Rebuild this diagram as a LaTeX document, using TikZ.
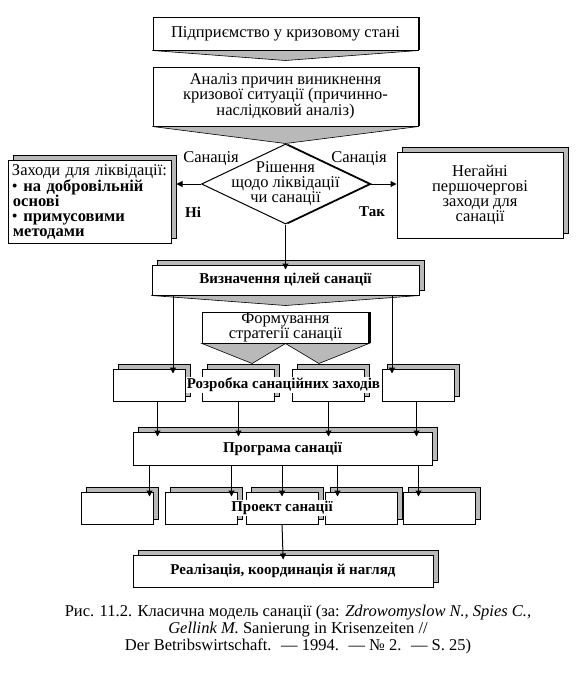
\documentclass[tikz,border=0pt]{standalone}
\usepackage{fontspec}
\setmainfont{Liberation Serif}
\usetikzlibrary{arrows.meta,positioning,shapes.geometric,calc,shadows}

\begin{document}
\begin{tikzpicture}[
  x=1pt, y=-1pt,
  font=\fontsize{16.5}{15}\selectfont,
  box/.style={draw, fill=white, line width=1pt, align=center, inner sep=2pt,
    general shadow={draw, fill=gray!55, line width=0.6pt, shadow xshift=5pt, shadow yshift=5pt}},
  topbox/.style={draw, fill=white, line width=1pt, align=center, inner xsep=2pt, inner ysep=0pt,
    general shadow={fill=black, shadow xshift=2pt}},
  cell/.style={box, minimum width=72pt, minimum height=32pt},
  decision/.style={draw, diamond, fill=white, line width=1pt, inner sep=0pt,
    minimum width=168pt, minimum height=80pt, general shadow={fill=black, shadow xshift=3pt}},
  chevron/.style={draw, fill=gray!55, line width=0.6pt},
  heavy/.style={font=\fontsize{15}{15}\selectfont\bfseries},
  lbl/.style={inner sep=1pt},
  over/.style={heavy, fill=white, inner sep=1pt},
  arrow/.style={-{Triangle[length=6pt, width=6pt]}, line width=1pt},
  into/.style={arrow, shorten >=-5pt}
]
  \useasboundingbox (0,0) rectangle (576,673);

  % Crisis and analysis
  \node[topbox, minimum width=265pt, minimum height=33pt] (start) at (285.5,33.5) {Підприємство у кризовому стані};
  \node[topbox, minimum width=265pt, minimum height=59pt, below=16pt of start] (anal)
    {Аналіз причин виникнення\\кризової ситуації (причинно-\\наслідковий аналіз)};

  % Decision
  \node[decision, below=17pt of anal] (dec) {};
  \node[lbl, align=center] (dectext) at (dec.center) {Рішення\\щодо ліквідації\\чи санації};

  \draw[chevron] (start.south west) -- ([yshift=-10pt]start.south) -- (start.south east) -- cycle;
  \draw[chevron] (anal.south west) -- (dec.north) -- (anal.south east) -- cycle;

  % Side boxes
  \node[box, minimum width=163pt, minimum height=83pt, text width=155pt, align=left] (liq) at (89.5,201.5)
    {Заходи для ліквідації:\\
     \textbullet\ \textbf{на добровільній}\\
     \hspace*{1pt}\textbf{основі}\\
     \textbullet\ \textbf{примусовими}\\
     \hspace*{1pt}\textbf{методами}};
  \node[box, minimum width=166pt, minimum height=86pt] (urg) at (480,195)
    {Негайні\\першочергові\\заходи для\\санації};

  \node[lbl] (sanl) at ([shift={(10pt,25pt)}]dec.west) {Санація};
  \node[lbl] (sanr) at ([shift={(-11pt,25pt)}]dec.east) {Санація};
  \node[lbl, heavy] (no) at ([shift={(-8pt,-28pt)}]dec.west) {Ні};
  \node[lbl, heavy] (yes) at ([shift={(2pt,-28pt)}]dec.east) {Так};

  % Goals and strategy
  \node[box, heavy, minimum width=267pt, minimum height=30pt, below=40pt of dec] (goals) {Визначення цілей санації};
  \draw[chevron] (goals.south west) -- ([yshift=-10pt]goals.south) -- (goals.south east) -- cycle;
  \node[topbox, minimum width=166pt, minimum height=31pt, below=16pt of goals] (strat) {Формування\\стратегії санації};
  \draw[chevron] (strat.south west)
    -- ([yshift=-20pt]$(strat.south west)!0.3!(strat.south east)$)
    -- (strat.south)
    -- ([yshift=-20pt]$(strat.south west)!0.7!(strat.south east)$)
    -- (strat.south east) -- cycle;

  % Measures row
  \node[cell] (d1) at (149.5,385) {};
  \node[cell, right=16pt of d1] (d2) {};
  \node[cell, right=17pt of d2] (d3) {};
  \node[cell, right=17pt of d3] (d4) {};
  \node[over] (devtext) at ($(d2)!0.5!(d3)$) {Розробка санаційних заходів};

  \coordinate (a1) at ([xshift=-13pt]d1.north east);
  \coordinate (a4) at ([xshift=10pt]d4.north west);

  % Programme
  \node[box, heavy, minimum width=299pt, minimum height=33pt] (prog) at (282.5,448.5) {Програма санації};

  % Project row
  \node[cell] (p1) at (117,508) {};
  \node[cell, right=11pt of p1] (p2) {};
  \node[cell, right=8pt of p2] (p3) {};
  \node[cell, right=6pt of p3] (p4) {};
  \node[cell, right=5pt of p4] (p5) {};
  \node[over] (projtext) at (p3) {Проект санації};

  \coordinate (q1) at ([xshift=-4pt]p1.north east);
  \coordinate (q2) at ([xshift=-6pt]p2.north east);
  \coordinate (q4) at ([xshift=13pt]p4.north west);
  \coordinate (q5) at ([xshift=16pt]p5.north west);

  % Realisation
  \node[box, heavy, minimum width=300pt, minimum height=32pt] (real) at (283,571) {Реалізація, координація й нагляд};

  % Caption
  \node[align=center, font=\fontsize{16.5}{17}\selectfont] (caption) at (298,630)
    {Рис. 11.2. Класична модель санації (за: \textit{Zdrowomyslow N., Spies C.,}\\
     \textit{Gellink M.} Sanierung in Krisenzeiten //\\
     Der Betribswirtschaft. \ — 1994. \ — № 2. \ — S. 25)};

  % Arrows
  \draw[arrow, shorten >=5pt] (dec.west) -- (dec.west -| liq.east);
  \draw[arrow] (dec.east) -- (dec.east -| urg.west);
  \draw[into] (dec.south) -- (goals.north);

  \draw[into] (goals.south -| a1) -- (a1);
  \draw[into] (goals.south -| a4) -- (a4);

  \draw[into] ([xshift=8pt]d1.south) -- ([xshift=8pt]d1.south |- prog.north);
  \draw[into] (d2.south) -- (d2.south |- prog.north);
  \draw[into] (d3.south) -- (d3.south |- prog.north);
  \draw[into] ([xshift=-2pt]d4.south) -- ([xshift=-2pt]d4.south |- prog.north);

  \draw[into] (prog.south -| q1) -- (q1);
  \draw[into] (prog.south -| q2) -- (q2);
  \draw[into] (prog.south -| p3) -- (p3.north);
  \draw[into] (prog.south -| q4) -- (q4);
  \draw[into] (prog.south -| q5) -- (q5);

  \draw[into] (p3.south) -- (real.north);
\end{tikzpicture}
\end{document}
